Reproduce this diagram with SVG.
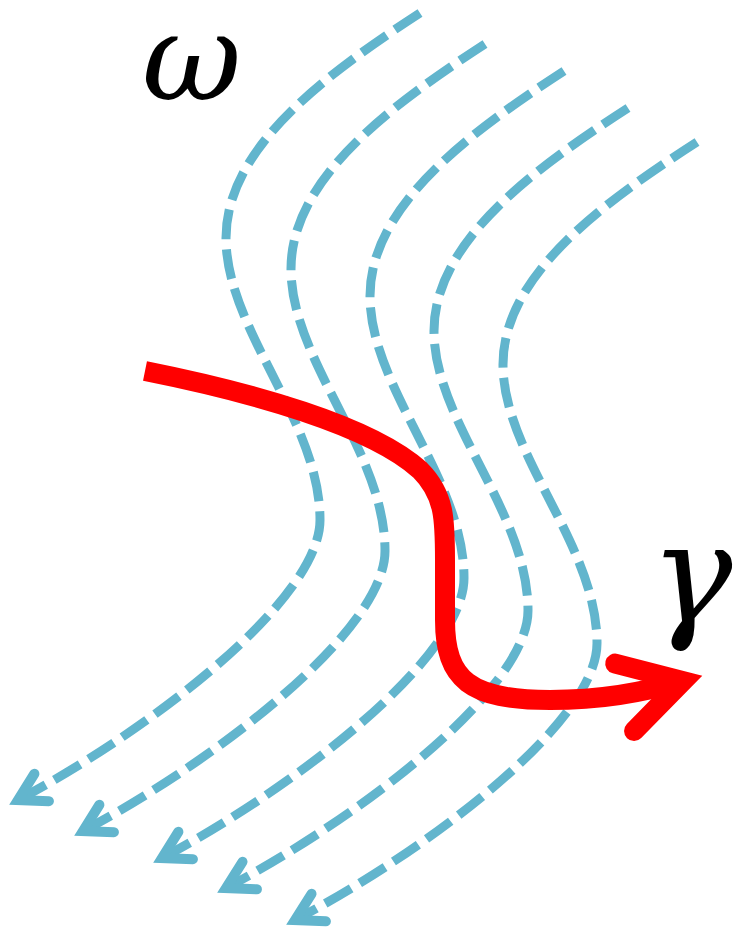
<svg xmlns="http://www.w3.org/2000/svg" width="739" height="937" viewBox="0 0 739 937">
<style>
.flow{fill:none;stroke:#62b5cd;stroke-width:9;stroke-dasharray:30 10;stroke-linecap:butt;marker-end:url(#ab)}
.gam{fill:none;stroke:#ff0000;stroke-width:20;stroke-linecap:butt;stroke-linejoin:round;marker-end:url(#ar)}
.lbl{font-family:"DejaVu Serif",serif;font-style:italic;fill:#000}
</style>
<defs>
<marker id="ab" markerUnits="userSpaceOnUse" orient="auto" markerWidth="80" markerHeight="80" viewBox="-40 -40 80 80" refX="0" refY="0" overflow="visible">
<polyline points="-26.8,-15.5 0,0 -26.8,15.5" fill="none" stroke="#62b5cd" stroke-width="10" stroke-linecap="round" stroke-linejoin="miter" stroke-dasharray="none"/>
</marker>
<marker id="ar" markerUnits="userSpaceOnUse" orient="auto" markerWidth="160" markerHeight="160" viewBox="-80 -80 160 160" refX="0" refY="0" overflow="visible">
<polyline points="-60.6,-35 0,0 -60.6,35" fill="none" stroke="#ff0000" stroke-width="20" stroke-linecap="round" stroke-linejoin="miter" stroke-dasharray="none"/>
</marker>
</defs>
<g id="connectors">
<path id="w1" class="flow" d="M420,13 C320,78 226,150 226,238 C226,330 320,420 320,520 C320,600 150,730 18,800"/>
<path id="w2" class="flow" d="M485,44 C385,109 291,181 291,269 C291,361 385,451 385,551 C385,631 215,761 83,831"/>
<path id="w3" class="flow" d="M564,71 C464,136 370,208 370,296 C370,388 464,478 464,578 C464,658 294,788 162,858"/>
<path id="w4" class="flow" d="M628,108 C528,172.4 434,243.8 434,331 C434,422.2 528,511.4 528,610.5 C528,689.8 358,818.6 226,888"/>
<path id="w5" class="flow" d="M697,142 C597,206.3 503,277.4 503,364.4 C503,455.4 597,544.3 597,643.2 C597,722.3 427,850.8 295,920"/>
<path id="gamma-path" class="gam" d="M145,371 C250,392 370,425 420,470 C445,495 445,520 445,560 L445,620 C445,680 470,700 550,700 C600,700 640,693 683,681"/>
</g>
<g id="label-omega"><text class="lbl" x="142" y="100" font-size="122">ω</text></g>
<g id="label-gamma"><text class="lbl" x="650" y="622" font-size="138">γ</text></g>
</svg>
